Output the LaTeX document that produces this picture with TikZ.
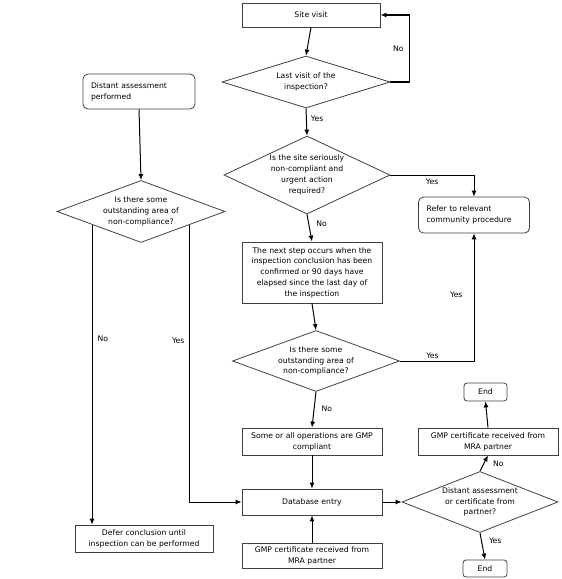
\documentclass[tikz,border=0pt]{standalone}
\usepackage{fontspec}
\setmainfont{DejaVu Sans}
\usetikzlibrary{shapes.geometric,arrows.meta,calc}
\tikzset{
  txt/.style={font=\fontsize{7.7}{10.8}\selectfont},
  stepbox/.style={txt,rectangle,draw=black!75,line width=0.8pt,inner sep=0pt,align=center},
  roundbox/.style={stepbox,rounded corners=5pt,align=left,inner xsep=8pt},
  query/.code 2 args={\pgfmathsetmacro\qaspect{#1/#2}%
    \edef\qopts{\noexpand\pgfkeysalso{aspect=\qaspect}}\qopts
    \pgfkeysalso{txt,diamond,draw=black!75,line width=0.8pt,inner sep=-3pt,align=center,
      minimum width=#1pt,minimum height=#2pt}},
  flow/.style={line width=1pt,-{Latex[length=6pt,width=5pt]}},
  lbl/.style={txt,inner sep=1pt}
}

\begin{document}
\begin{tikzpicture}[x=1pt,y=-1pt]
  \useasboundingbox (0,0) rectangle (562,579);
  % main line of the inspection
  \node[stepbox,minimum width=138pt,minimum height=24pt] (visit) at (311,15) {Site visit};
  \node[query={168}{52}] (lastq) at (306,82) {Last visit of the\\inspection?};
  \node[query={166}{78}] (urgentq) at (307,175) {Is the site seriously\\non-compliant and\\urgent action\\required?};
  \node[roundbox,text width=95pt,minimum height=36pt] (refer) at (474,215) {Refer to relevant\\community procedure};
  \node[stepbox,minimum width=140pt,minimum height=61pt] (nextstep) at (312,272.5) {The next step occurs when the\\inspection conclusion has been\\confirmed or 90 days have\\elapsed since the last day of\\the inspection};
  \node[query={167}{61}] (outq) at (316,361) {Is there some\\outstanding area of\\non-compliance?};
  \node[stepbox,minimum width=140pt,minimum height=27pt] (compliant) at (312,441.5) {Some or all operations are GMP\\compliant};
  \node[stepbox,minimum width=140pt,minimum height=26pt] (database) at (312,502) {Database entry};
  \node[stepbox,minimum width=140pt,minimum height=25pt] (mracert) at (312,555.5) {GMP certificate received from\\MRA partner};
  % right branch
  \node[query={156}{61}] (partnerq) at (480,502) {Distant assessment\\or certificate from\\partner?};
  \node[stepbox,minimum width=140pt,minimum height=27pt] (mraright) at (488,441.5) {GMP certificate received from\\MRA partner};
  \node[stepbox,rounded corners=3pt,minimum width=43pt,minimum height=18pt] (endtop) at (485.5,392) {End};
  \node[stepbox,rounded corners=3pt,minimum width=44pt,minimum height=17pt] (endbot) at (485,568.5) {End};
  % distant assessment
  \node[roundbox,text width=96pt,minimum height=35pt] (distant) at (139,91.5) {Distant assessment\\performed};
  \node[query={168}{62}] (leftq) at (141,211.5) {Is there some\\outstanding area of\\non-compliance?};
  \node[stepbox,minimum width=138pt,minimum height=27pt] (defer) at (144,538.5) {Defer conclusion until\\inspection can be performed};
  \coordinate (leftno) at ($(leftq.west)!0.42!(leftq.south)$);
  \coordinate (leftyes) at ($(leftq.east)!0.42!(leftq.south)$);

  \draw[flow] (visit.south) -- (lastq.north);
  \draw[flow,line width=1.4pt] (lastq.east) -- ++(19,0) |- node[lbl,left=4pt,pos=0.25]{No} (visit.east);
  \draw[flow] (lastq.south) -- node[lbl,right=3pt,pos=0.38]{Yes} (urgentq.north);
  \draw[flow] (urgentq.east) -| node[lbl,below=2pt,pos=0.25]{Yes} (refer.north);
  \draw[flow] (urgentq.south) -- node[lbl,right=6pt,pos=0.36]{No} (nextstep.north);
  \draw[flow] (nextstep.south) -- (outq.north);
  \draw[flow] (outq.east) -| node[lbl,above=1pt,pos=0.22]{Yes} node[lbl,left=10pt,pos=0.76]{Yes} (refer.south);
  \draw[flow] (outq.south) -- node[lbl,right=6pt,pos=0.47]{No} (compliant.north);
  \draw[flow] (compliant.south) -- (database.north);
  \draw[flow] (mracert.north) -- (database.south);
  \draw[flow] (database.east) -- (partnerq.west);
  \draw[flow] (partnerq.north) -- node[lbl,right=8pt,pos=0.45]{No} (mraright.south);
  \draw[flow] (mraright.north) -- (endtop.south);
  \draw[flow] (partnerq.south) -- node[lbl,right=6pt,pos=0.3]{Yes} (endbot.north);
  \draw[flow] (distant.south) -- (leftq.north);
  \draw[flow] (leftno) -- node[lbl,right=4pt,pos=0.38]{No} (leftno |- defer.north);
  \draw[flow] (leftyes) |- node[lbl,left=4pt,pos=0.21]{Yes} (database.west);
\end{tikzpicture}
\end{document}
